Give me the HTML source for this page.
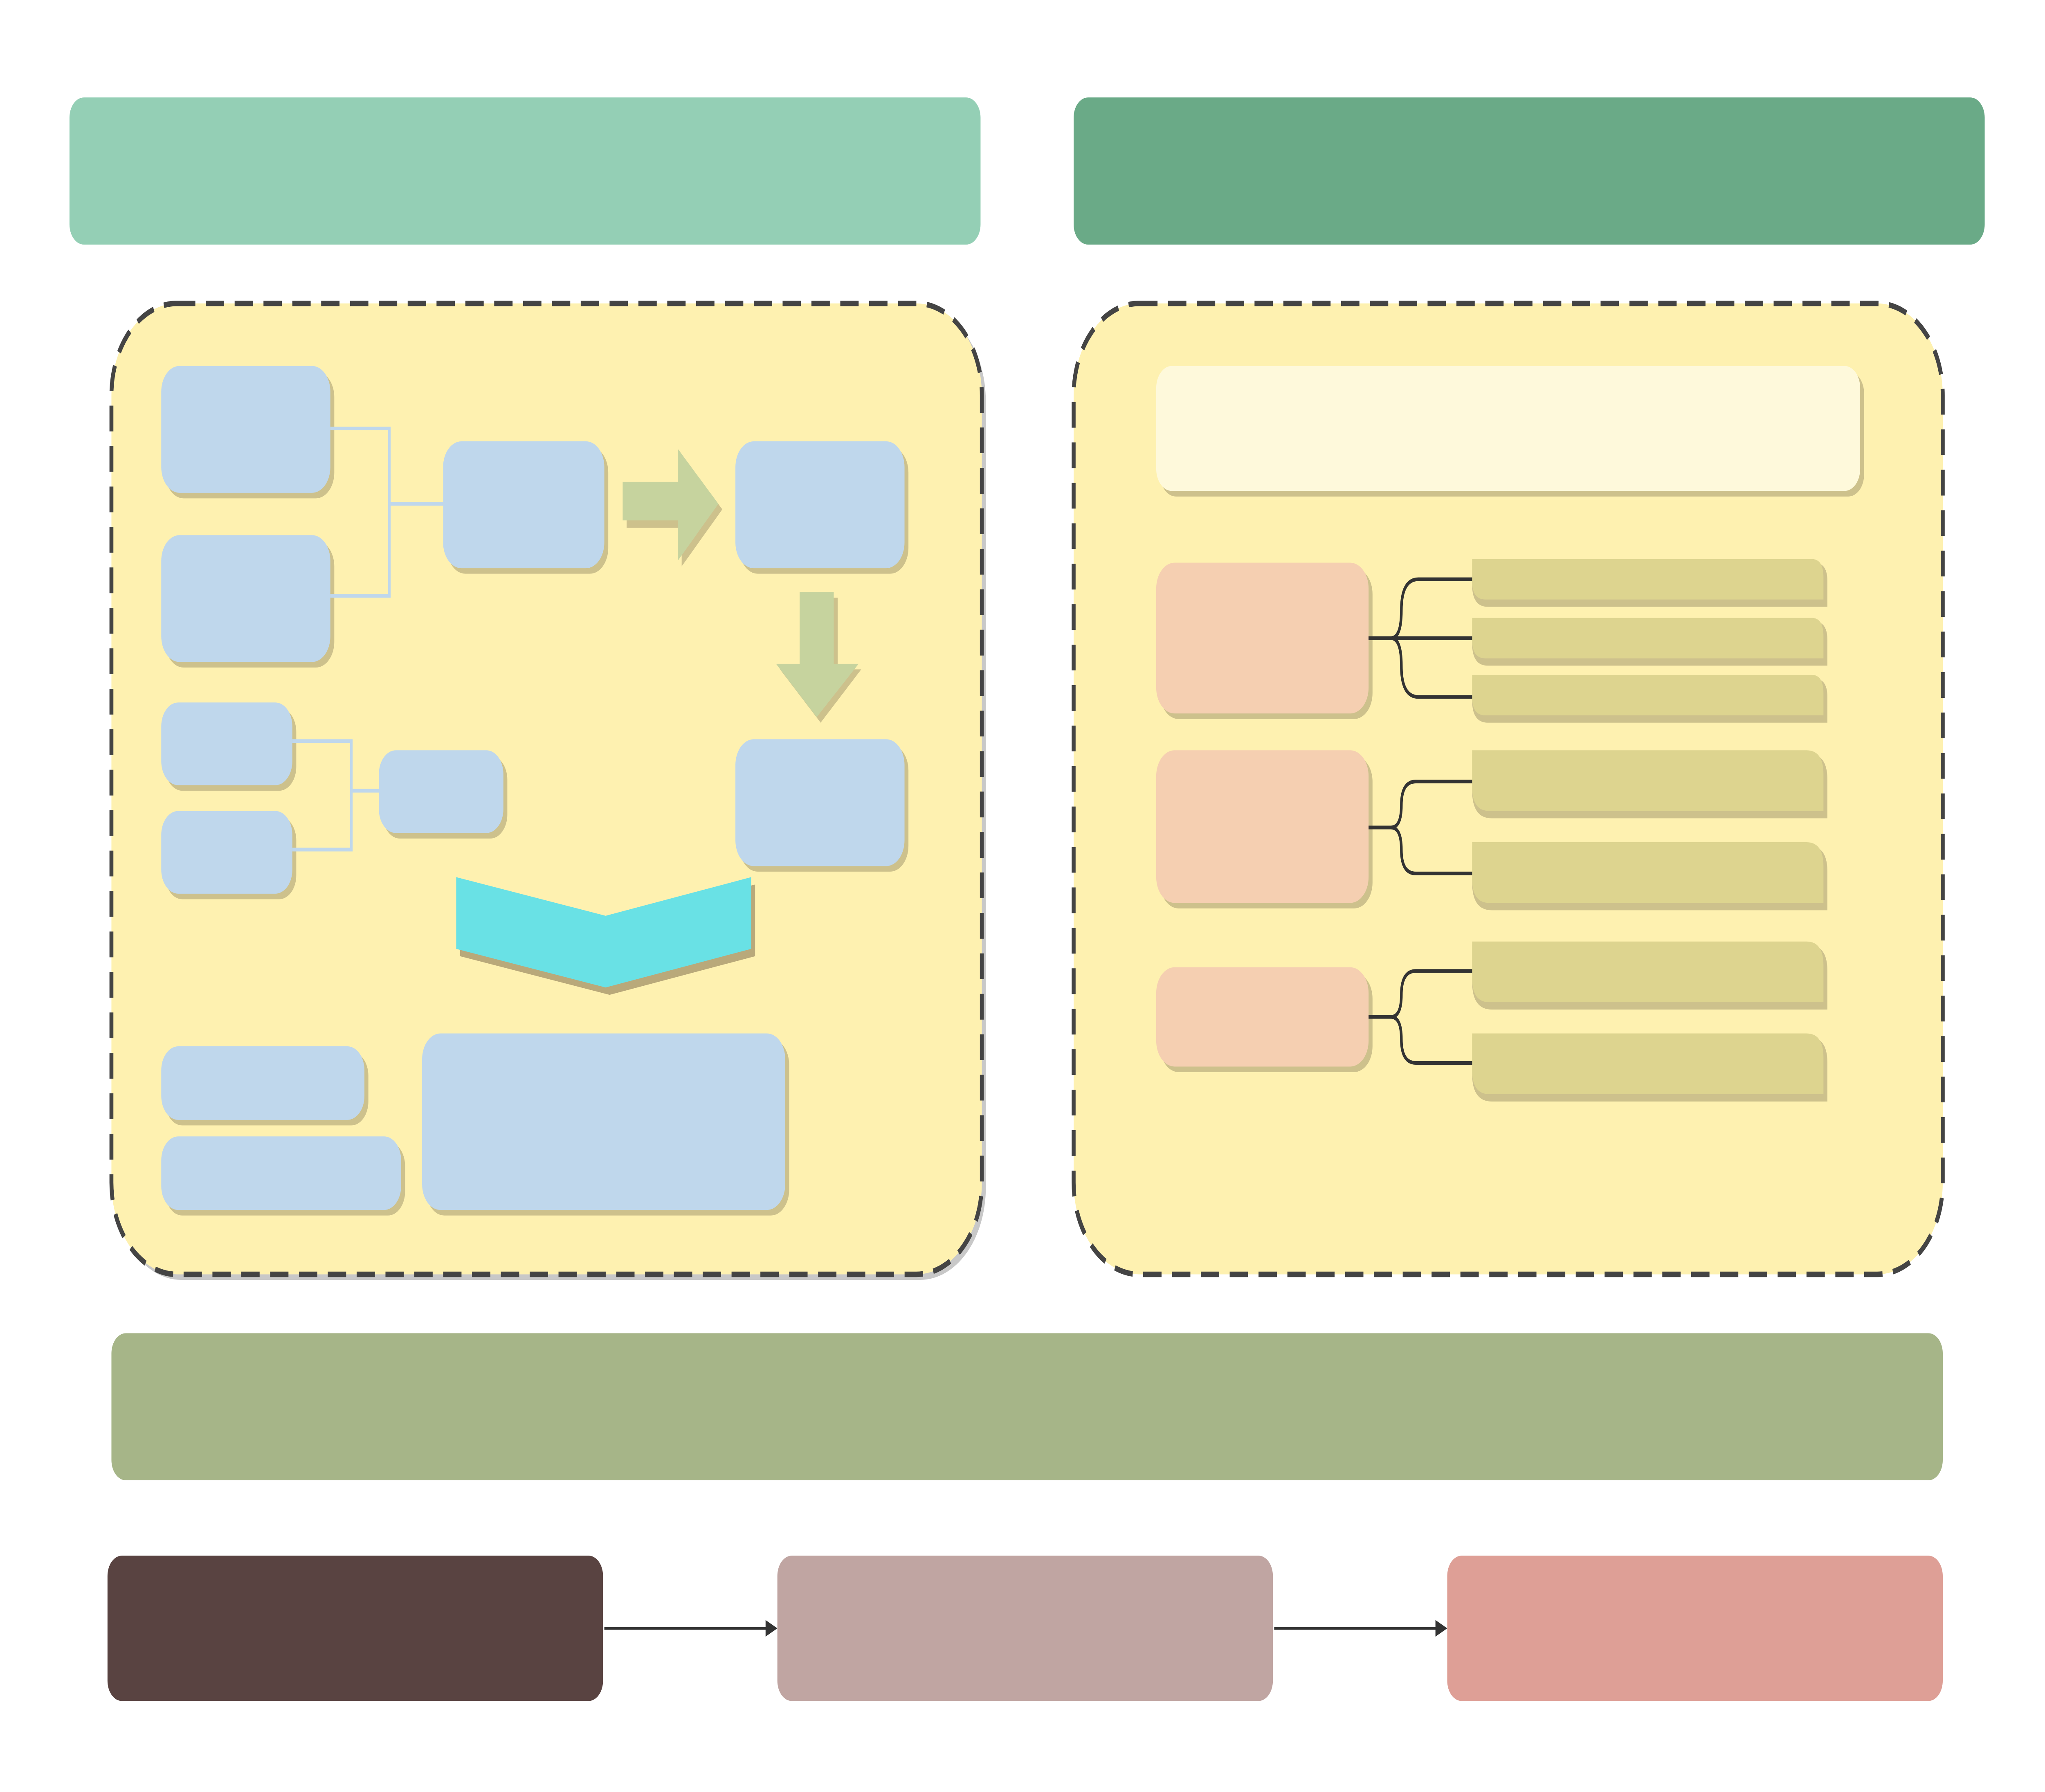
<!DOCTYPE html>
<html><head><meta charset="utf-8"><style>
html,body{margin:0;padding:0;background:#fff;width:100%;height:100%;overflow:hidden}
svg{display:block;width:100vw;height:100vh}
</style></head><body>
<svg viewBox="0 0 1560 974.5" preserveAspectRatio="none" xmlns="http://www.w3.org/2000/svg">
<!-- top bars -->
<rect x="53" y="53" width="695" height="80" rx="11" fill="#94cfb5"/>
<rect x="819" y="53" width="695" height="80" rx="11" fill="#6aaa87"/>

<!-- left container -->
<rect x="88" y="168" width="664" height="528" rx="50" fill="#c8c8c8"/>
<rect x="85" y="165" width="664" height="528" rx="50" fill="#fef1b0" stroke="#444" stroke-width="3" stroke-dasharray="14 8"/>
<!-- right container -->
<rect x="819" y="165" width="663" height="528" rx="50" fill="#fef1b0" stroke="#444" stroke-width="3" stroke-dasharray="14 8"/>

<g fill="#cdc18c">
<rect x="126" y="202" width="129" height="69" rx="14"/>
<rect x="126" y="294" width="129" height="69" rx="14"/>
<rect x="341" y="243" width="123" height="69" rx="14"/>
<rect x="564" y="243" width="129" height="69" rx="14"/>
<rect x="126" y="385" width="100" height="45" rx="13"/>
<rect x="126" y="444" width="100" height="45" rx="13"/>
<rect x="292" y="411" width="95" height="45" rx="13"/>
<rect x="564" y="405" width="129" height="69" rx="14"/>
<rect x="126" y="572" width="155" height="40" rx="13"/>
<rect x="126" y="621" width="183" height="40" rx="13"/>
<rect x="325" y="565" width="277" height="96" rx="14"/>
</g>
<g fill="#bfd7ec">
<rect x="123" y="199" width="129" height="69" rx="14"/>
<rect x="123" y="291" width="129" height="69" rx="14"/>
<rect x="338" y="240" width="123" height="69" rx="14"/>
<rect x="561" y="240" width="129" height="69" rx="14"/>
<rect x="123" y="382" width="100" height="45" rx="13"/>
<rect x="123" y="441" width="100" height="45" rx="13"/>
<rect x="289" y="408" width="95" height="45" rx="13"/>
<rect x="561" y="402" width="129" height="69" rx="14"/>
<rect x="123" y="569" width="155" height="40" rx="13"/>
<rect x="123" y="618" width="183" height="40" rx="13"/>
<rect x="322" y="562" width="277" height="96" rx="14"/>
</g>
<g fill="none" stroke="#bfd7ec" stroke-width="2">
<path d="M252 233 H297 V324 H252 M297 274 H338"/>
<path d="M223 403 H268 V462 H223 M268 430 H289"/>
</g>

<path d="M478 265 H520 V247 L551 277 L520 308 V287 H478 Z" fill="#cdc18c"/>
<path d="M475 262 H517 V244 L548 274 L517 305 V283 H475 Z" fill="#c6d39e"/>
<path d="M613 325 H639 V364 H657 L626 393 L595 364 H613 Z" fill="#cdc18c"/>
<path d="M610 322 H636 V361 H655 L623 390 L592 361 H610 Z" fill="#c6d39e"/>

<path d="M351 481 L465 502 L576 481 L576 520 L465 541 L351 520 Z" fill="#b9a97a"/>
<path d="M348 477 L462 498 L573 477 L573 516 L462 537 L348 516 Z" fill="#69e1e5"/>

<rect x="885" y="202" width="537" height="68" rx="12" fill="#cdc18c"/>
<rect x="882" y="199" width="537" height="68" rx="12" fill="#fef9db"/>
<g fill="#cdc18c">
<rect x="885" y="309" width="162" height="82" rx="14"/>
<rect x="885" y="411" width="162" height="83" rx="14"/>
<rect x="885" y="529" width="162" height="54" rx="14"/>
</g>
<g fill="#f5cfb1">
<rect x="882" y="306" width="162" height="82" rx="14"/>
<rect x="882" y="408" width="162" height="83" rx="14"/>
<rect x="882" y="526" width="162" height="54" rx="14"/>
</g>
<g fill="#cdc18c">
<path d="M1123 306 H1384 Q1394 306 1394 316 V330 H1135 Q1123 330 1123 318 Z"/>
<path d="M1123 338 H1384 Q1394 338 1394 348 V362 H1135 Q1123 362 1123 350 Z"/>
<path d="M1123 369 H1384 Q1394 369 1394 379 V393 H1135 Q1123 393 1123 381 Z"/>
<path d="M1123 410 H1380 Q1394 410 1394 424 V445 H1138 Q1123 445 1123 430 Z"/>
<path d="M1123 460 H1380 Q1394 460 1394 474 V495 H1138 Q1123 495 1123 480 Z"/>
<path d="M1123 514 H1380 Q1394 514 1394 528 V549 H1138 Q1123 549 1123 534 Z"/>
<path d="M1123 564 H1380 Q1394 564 1394 578 V599 H1138 Q1123 599 1123 584 Z"/>
</g>
<g fill="#ddd48f">
<path d="M1123 304 H1382 Q1391 304 1391 314 V326 H1133 Q1123 326 1123 316 Z"/>
<path d="M1123 336 H1382 Q1391 336 1391 346 V358 H1133 Q1123 358 1123 348 Z"/>
<path d="M1123 367 H1382 Q1391 367 1391 377 V389 H1133 Q1123 389 1123 379 Z"/>
<path d="M1123 408 H1378 Q1391 408 1391 421 V441 H1136 Q1123 441 1123 428 Z"/>
<path d="M1123 458 H1378 Q1391 458 1391 471 V491 H1136 Q1123 491 1123 478 Z"/>
<path d="M1123 512 H1378 Q1391 512 1391 525 V545 H1136 Q1123 545 1123 532 Z"/>
<path d="M1123 562 H1378 Q1391 562 1391 575 V595 H1136 Q1123 595 1123 582 Z"/>
</g>
<g fill="none" stroke="#333" stroke-width="2">
<path d="M1044 347 H1061 Q1069 347 1069 332 Q1069 315 1082 315 H1123"/>
<path d="M1044 347 H1123"/>
<path d="M1061 347 Q1069 347 1069 362 Q1069 379 1082 379 H1123"/>
<path d="M1044 450 H1061 Q1069 450 1069 438 Q1069 425 1080 425 H1123"/>
<path d="M1061 450 Q1069 450 1069 462 Q1069 475 1080 475 H1123"/>
<path d="M1044 553 H1061 Q1069 553 1069 541 Q1069 528 1080 528 H1123"/>
<path d="M1061 553 Q1069 553 1069 565 Q1069 578 1080 578 H1123"/>
</g>

<rect x="85" y="725" width="1397" height="80" rx="11" fill="#a6b588"/>
<rect x="82" y="846" width="378" height="79" rx="11" fill="#594341"/>
<rect x="593" y="846" width="378" height="79" rx="11" fill="#c0a5a2"/>
<rect x="1104" y="846" width="378" height="79" rx="11" fill="#de9f96"/>
<g stroke="#333" stroke-width="1.5">
<line x1="461" y1="885.5" x2="586" y2="885.5"/>
<line x1="972" y1="885.5" x2="1097" y2="885.5"/>
</g>
<path d="M593 885.5 L584 881 L584 890 Z" fill="#333"/>
<path d="M1104 885.5 L1095 881 L1095 890 Z" fill="#333"/>
</svg>
</body></html>
